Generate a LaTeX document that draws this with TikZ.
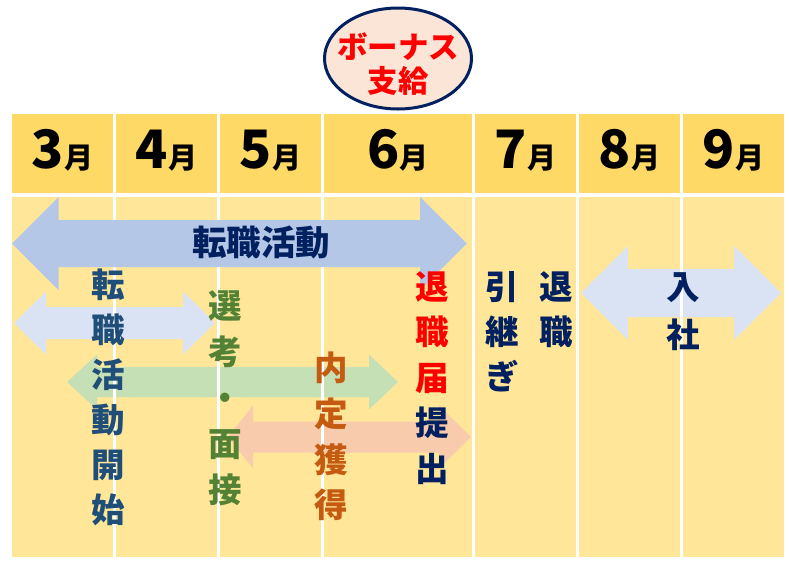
\documentclass[tikz,border=0pt]{standalone}
\usepackage{fontspec}
\setmainfont{Noto Sans CJK JP}
\usetikzlibrary{shapes.geometric}
\definecolor{hdr}{HTML}{FFD966}
\definecolor{bdy}{HTML}{FFE699}
\definecolor{navy}{HTML}{002060}
\definecolor{steel}{HTML}{1F4E79}
\definecolor{leaf}{HTML}{548235}
\definecolor{rust}{HTML}{C55A11}
\definecolor{peach}{HTML}{FBE5D6}
\definecolor{arBlue}{HTML}{B4C7E7}
\definecolor{arPale}{HTML}{DAE3F3}
\definecolor{arGreen}{HTML}{C5E0B4}
\definecolor{arOrange}{HTML}{F8CBAD}
\definecolor{bonusred}{HTML}{FF0000}
% #1 left tip x, #2 right tip x, #3 centre y, #4 shaft half height,
% #5 head half height, #6 left head length, #7 right head length, #8 colour
\newcommand\darrowshape[8]{%
  \fill[#8] (#1,#3) -- ({#1+#6},{#3-#5}) -- ({#1+#6},{#3-#4}) -- ({#2-#7},{#3-#4})
    -- ({#2-#7},{#3-#5}) -- (#2,#3) -- ({#2-#7},{#3+#5}) -- ({#2-#7},{#3+#4})
    -- ({#1+#6},{#3+#4}) -- ({#1+#6},{#3+#5}) -- cycle;}
\begin{document}
\begin{tikzpicture}[x=1pt,y=-1pt,
  month/.style={anchor=base, inner sep=0},
  vtext/.style={align=center, inner sep=0, font=\bfseries\fontsize{33.5}{45}\selectfont},
  gapline/.style={white, line width=3pt}]
\useasboundingbox (0,0) rectangle (792,563);
% cells
\foreach \l/\r in {12/113,116/217,220/321,324/472,475/576,579/680,683/784}{
  \fill[hdr] (\l,114) rectangle (\r,193);
  \fill[bdy] (\l,197) rectangle (\r,557);
}
% month labels
\foreach \c/\m [count=\i] in {62.5/3,166.5/4,270.5/5,398/6,525.5/7,629.5/8,733.5/9}{
  \node[month] (m\i) at (\c,168) {\bfseries{\fontsize{53}{53}\selectfont \m}{\fontsize{29}{29}\selectfont 月}};
}
% bonus ellipse
\node[ellipse, draw=navy, line width=3pt, fill=peach, minimum width=147pt, minimum height=101pt, inner sep=0] (bonus) at (398,58.5) {};
\node[text=bonusred, align=center, inner sep=0, font=\bfseries\fontsize{30.5}{34}\selectfont] (bonustxt) at (398,64) {ボーナス\\支給};
% small arrows
\darrowshape{14}{215}{323}{16}{31.5}{32}{32}{arPale}
\darrowshape{67}{398}{382}{15}{27.5}{30}{29}{arGreen}
\darrowshape{228}{471}{437}{15.5}{31.5}{25}{32}{arOrange}
\darrowshape{581}{781}{293}{24}{47}{47}{47}{arPale}
% white column lines in the body
\foreach \g in {114.5,218.5,322.5,473.5,577.5,681.5}{
  \draw[gapline] (\g,197) -- (\g,557);
}
% big arrow
\darrowshape{12}{467}{243.5}{23.5}{46.5}{46.5}{47}{arBlue}
\node[text=navy, inner sep=0, font=\bfseries\fontsize{34.5}{34}\selectfont] (tenshoku) at (261,243) {転職活動};
% vertical texts
\node[vtext, text=steel] (kaishi) at (108,397.5) {転\\職\\活\\動\\開\\始};
\node[vtext, text=leaf, font=\bfseries\fontsize{33.5}{46}\selectfont] (senko) at (225,398.5) {選\\考\\・\\面\\接};
\node[vtext, text=rust, font=\bfseries\fontsize{33.5}{45.7}\selectfont] (naitei) at (331,436.5) {内\\定\\獲\\得};
\node[vtext, text=navy, font=\bfseries\fontsize{33.5}{45.5}\selectfont] (taishokutodoke) at (432,378) {\textcolor{bonusred}{退}\\\textcolor{bonusred}{職}\\\textcolor{bonusred}{届}\\提\\出};
\node[vtext, text=navy] (hikitsugi) at (502,332) {引\\継\\ぎ};
\node[vtext, text=navy] (taishoku) at (556,309.5) {退\\職};
\node[vtext, text=navy, font=\bfseries\fontsize{33.5}{48}\selectfont] (nyusha) at (683,312) {入\\社};
\end{tikzpicture}
\end{document}
